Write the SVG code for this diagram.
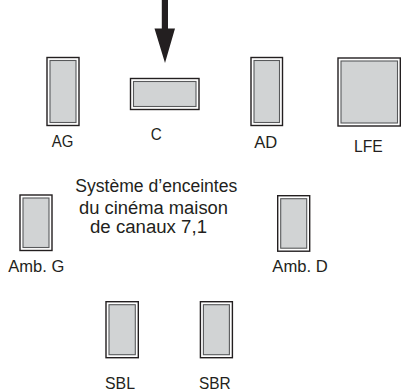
<svg xmlns="http://www.w3.org/2000/svg" width="401" height="392" viewBox="0 0 401 392">
<style>
.o{fill:#fff;stroke:#231f20;stroke-width:1.4}
.i{fill:#d1d3d4;stroke:#58595b;stroke-width:1.1}
.l{font-family:"Liberation Sans",Arial,sans-serif;font-size:17px;fill:#231f20;text-anchor:middle}
.t{font-family:"Liberation Sans",Arial,sans-serif;font-size:18px;fill:#231f20;text-anchor:middle}
</style>
<rect width="401" height="392" fill="#fff"/>
<g id="connectors">
<path d="M161.8 0 H168 V28.5 H175 L165 63 L154.5 28.5 H161.8 Z" fill="#231f20"/>
</g>
<g id="AG">
<rect class="o" x="47" y="57.5" width="32" height="68"/>
<rect class="i" x="50" y="60.5" width="26" height="62"/>
<text class="l" x="62.5" y="146.7" textLength="21.6" lengthAdjust="spacingAndGlyphs">AG</text>
</g>
<g id="C">
<rect class="o" x="130.5" y="78.5" width="68.5" height="31"/>
<rect class="i" x="133.5" y="81.5" width="62.5" height="25"/>
<text class="l" x="156.2" y="140" textLength="11" lengthAdjust="spacingAndGlyphs">C</text>
</g>
<g id="AD">
<rect class="o" x="251" y="57.5" width="31.5" height="68"/>
<rect class="i" x="254" y="60.5" width="25.5" height="62"/>
<text class="l" x="265.8" y="148.3" textLength="23" lengthAdjust="spacingAndGlyphs">AD</text>
</g>
<g id="LFE">
<rect class="o" x="338" y="58" width="62.3" height="68"/>
<rect class="i" x="341" y="61" width="56.5" height="62"/>
<text class="l" x="368.3" y="151.7" textLength="28.7" lengthAdjust="spacingAndGlyphs">LFE</text>
</g>
<g id="title">
<text class="t" x="156.3" y="191.8" textLength="162" lengthAdjust="spacingAndGlyphs">Système d’enceintes</text>
<text class="t" x="153.5" y="213.8" textLength="149" lengthAdjust="spacingAndGlyphs">du cinéma maison</text>
<text class="t" x="148.5" y="233" textLength="117" lengthAdjust="spacingAndGlyphs">de canaux 7,1</text>
</g>
<g id="AmbG">
<rect class="o" x="20" y="195" width="32" height="55.5"/>
<rect class="i" x="23" y="198" width="26" height="49.5"/>
<text class="l" x="36.3" y="272.3" textLength="56" lengthAdjust="spacingAndGlyphs">Amb. G</text>
</g>
<g id="AmbD">
<rect class="o" x="277.7" y="195.7" width="32" height="55.5"/>
<rect class="i" x="280.7" y="198.7" width="26" height="49.5"/>
<text class="l" x="300" y="272.3" textLength="55.4" lengthAdjust="spacingAndGlyphs">Amb. D</text>
</g>
<g id="SBL">
<rect class="o" x="106" y="301.7" width="32.3" height="56"/>
<rect class="i" x="109" y="304.7" width="26.3" height="50"/>
<text class="l" x="120" y="389" textLength="30" lengthAdjust="spacingAndGlyphs">SBL</text>
</g>
<g id="SBR">
<rect class="o" x="200.4" y="301.7" width="32" height="56"/>
<rect class="i" x="203.4" y="304.7" width="26" height="50"/>
<text class="l" x="214.8" y="389" textLength="31.7" lengthAdjust="spacingAndGlyphs">SBR</text>
</g>
</svg>
